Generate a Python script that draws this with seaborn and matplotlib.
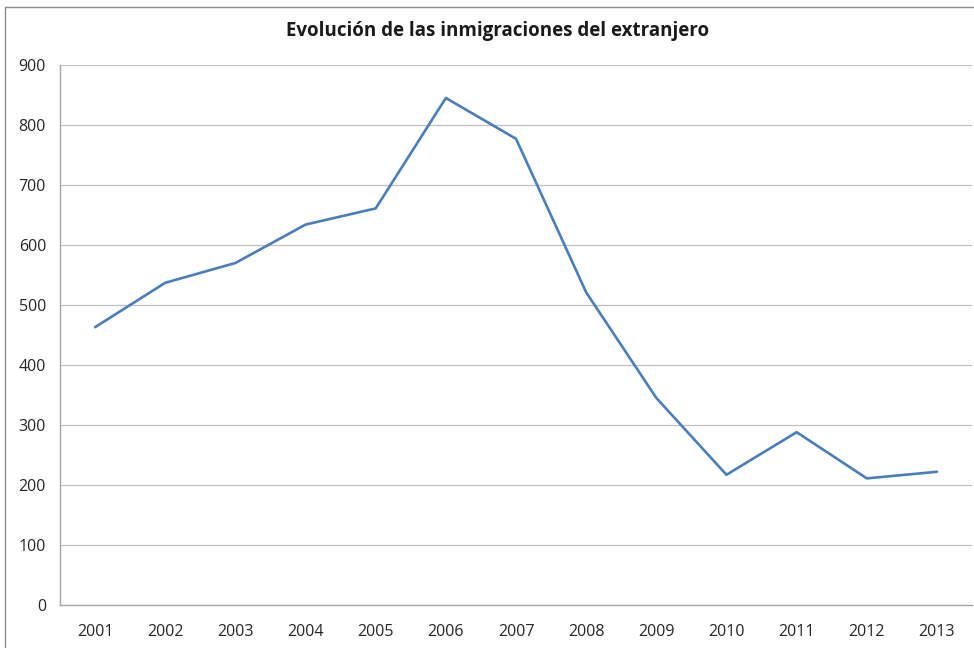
import pandas as pd
import seaborn as sns
import matplotlib.pyplot as plt
from matplotlib.patches import Rectangle

# --- Data ---
years = ["2001", "2002", "2003", "2004", "2005", "2006", "2007",
         "2008", "2009", "2010", "2011", "2012", "2013"]
inmigraciones = [463, 537, 570, 634, 661, 845, 777,
                 521, 345, 217, 288, 211, 222]
y_ticks = [0, 100, 200, 300, 400, 500, 600, 700, 800, 900]

df = pd.DataFrame({"pos": range(len(years)), "valor": inmigraciones})

sns.set_style("white")
plt.rcParams['font.family'] = ['Open Sans', 'DejaVu Sans']

fig = plt.figure(figsize=(9.74, 6.48), dpi=100)
ax = fig.add_axes([0.0616, 0.0664, 0.9364, 0.8333])

# chart-area frame (Excel style)
fig.patches.append(Rectangle((5 / 974, -0.1), 1.2, (641 + 64.8) / 648,
                             transform=fig.transFigure, fill=False,
                             edgecolor="#8c8c8c", linewidth=1.0))

sns.lineplot(data=df, x="pos", y="valor", ax=ax, color="#4A7EBB", linewidth=1.9)

ax.set_xlim(-0.5, len(years) - 0.5)
ax.set_ylim(0, 900)
ax.set_yticks(y_ticks)
ax.set_yticklabels([str(t) for t in y_ticks], fontsize=11.5, color="#262626")
ax.set_xticks(range(len(years)))
ax.set_xticklabels(years, fontsize=11.5, color="#262626")
ax.set_xticks([i - 0.5 for i in range(len(years) + 1)], minor=True)
ax.tick_params(axis="x", which="major", length=0, pad=14)
ax.tick_params(axis="x", which="minor", length=5, color="#a6a6a6", width=1)
ax.tick_params(axis="y", length=5, color="#a6a6a6", width=1, pad=5)

ax.grid(axis="y", color="#c0c0c0", linewidth=0.9)
ax.set_axisbelow(True)
for side in ["top", "right"]:
    ax.spines[side].set_visible(False)
for side in ["left", "bottom"]:
    ax.spines[side].set_color("#a6a6a6")
    ax.spines[side].set_linewidth(1)

ax.set_xlabel("")
ax.set_ylabel("")
fig.text(0.511, 0.952, "Evolución de las inmigraciones del extranjero",
         ha="center", va="center", fontsize=13.5, fontweight="bold", color="#1a1a1a")

fig.savefig("out.png", dpi=100)
